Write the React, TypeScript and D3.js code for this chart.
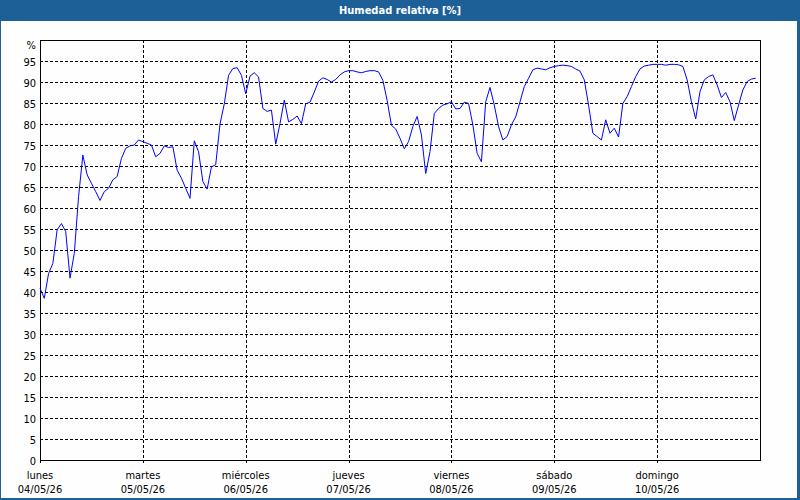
import React from 'react';
import * as d3 from 'd3';

const chartTitle = 'Humedad relativa [%]';
const dayNames = ['lunes', 'martes', 'miércoles', 'jueves', 'viernes', 'sábado', 'domingo'];
const dayDates = ['04/05/26', '05/05/26', '06/05/26', '07/05/26', '08/05/26', '09/05/26', '10/05/26'];
const yTickValues = [0, 5, 10, 15, 20, 25, 30, 35, 40, 45, 50, 55, 60, 65, 70, 75, 80, 85, 90, 95];
const yUnitLabel = '%';

// hourly relative humidity readings, starting Monday 04/05/26 00:00
const humidity = [
  40.9, 38.5, 44.4, 46.8, 54.8, 56.3, 54.4, 43.3, 49.2, 62.7, 72.6, 67.9,
  65.9, 63.9, 61.8, 63.9, 64.7, 66.7, 67.5, 71.8, 74.2, 74.8, 75.0, 76.2,
  75.8, 75.4, 75.0, 72.2, 73.0, 74.8, 74.4, 74.6, 69.0, 67.1, 64.7, 62.3,
  76.0, 73.4, 66.3, 64.5, 69.8, 70.3, 80.0, 84.8, 91.6, 93.2, 93.4, 91.6,
  87.2, 91.4, 92.2, 91.2, 83.7, 83.0, 83.3, 75.2, 80.1, 85.7, 80.5, 81.1,
  81.9, 80.1, 84.8, 85.2, 87.6, 90.2, 91.0, 90.6, 90.0, 90.6, 91.7, 92.4,
  92.7, 92.7, 92.4, 92.2, 92.5, 92.7, 92.7, 92.4, 90.4, 85.6, 79.7, 78.8,
  76.6, 74.1, 75.8, 79.4, 81.8, 77.4, 68.2, 73.4, 82.5, 83.7, 84.5, 84.8,
  85.3, 83.6, 83.7, 85.2, 84.9, 79.8, 73.0, 71.0, 85.3, 88.7, 84.5, 79.4,
  76.2, 77.0, 79.8, 81.7, 85.3, 88.9, 90.9, 92.9, 93.3, 93.1, 92.9, 93.4,
  93.7, 93.9, 94.0, 93.9, 93.7, 93.1, 92.6, 90.5, 84.5, 77.8, 77.0, 76.2,
  81.0, 77.8, 79.0, 76.9, 84.9, 86.5, 88.9, 91.3, 93.1, 93.8, 94.0, 94.2,
  94.2, 94.2, 94.0, 94.2, 94.2, 94.1, 93.7, 90.5, 85.3, 81.2, 87.7, 90.5,
  91.3, 91.7, 89.3, 86.3, 87.5, 85.3, 80.8, 84.5, 88.1, 90.1, 90.7, 90.9,
];

const W = 800;
const H = 500;
const PLOT = { left: 40, top: 40, right: 760, bottom: 460 };
const FONT = "'DejaVu Sans Condensed', 'DejaVu Sans', sans-serif";
const BLUE = '#1d5f97';

export default function App() {
  const hoursPerDay = 24;
  const x = d3.scaleLinear().domain([0, dayNames.length * hoursPerDay]).range([PLOT.left, PLOT.right]);
  const y = d3.scaleLinear().domain([0, 100]).range([PLOT.bottom, PLOT.top]);
  const line = d3
    .line<number>()
    .x((_, i) => x(i))
    .y((d) => y(d));

  const crisp = (v: number) => Math.round(v) + 0.5;

  return (
    <svg
      width={W}
      height={H}
      style={{ position: 'absolute', left: 0, top: 0, display: 'block' }}
      fontFamily={FONT}
    >
      <rect x={0} y={0} width={W} height={H} fill={BLUE} />
      <rect x={1} y={21} width={W - 4} height={H - 23} fill="#fdfefd" />
      <text
        x={W / 2}
        y={14}
        textAnchor="middle"
        fill="#ffffff"
        fontWeight="bold"
        fontSize={11}
        style={{ fontStretch: 'condensed' }}
      >
        {chartTitle}
      </text>

      {/* horizontal grid */}
      {yTickValues
        .filter((v) => v > 0)
        .map((v) => (
          <line
            key={'hg' + v}
            x1={PLOT.left}
            x2={PLOT.right}
            y1={crisp(y(v))}
            y2={crisp(y(v))}
            stroke="#000"
            strokeDasharray="3,2"
            shapeRendering="crispEdges"
          />
        ))}
      {/* vertical grid */}
      {dayNames.map((_, i) =>
        i === 0 ? null : (
          <line
            key={'vg' + i}
            x1={crisp(x(i * hoursPerDay))}
            x2={crisp(x(i * hoursPerDay))}
            y1={PLOT.top}
            y2={PLOT.bottom + 3}
            stroke="#000"
            strokeDasharray="3,2"
            shapeRendering="crispEdges"
          />
        )
      )}

      {/* plot frame */}
      <rect
        x={PLOT.left + 0.5}
        y={PLOT.top + 0.5}
        width={PLOT.right - PLOT.left}
        height={PLOT.bottom - PLOT.top}
        fill="none"
        stroke="#000"
        shapeRendering="crispEdges"
      />
      <line x1={PLOT.left + 0.5} x2={PLOT.left + 0.5} y1={PLOT.bottom} y2={PLOT.bottom + 3} stroke="#000" shapeRendering="crispEdges" />

      {/* y tick labels */}
      {yTickValues.map((v) => (
        <text
          key={'yl' + v}
          x={36}
          y={y(v) + 4.5}
          textAnchor="end"
          fontSize={11}
          fill="#000"
          style={{ fontStretch: 'condensed' }}
        >
          {v}
        </text>
      ))}
      <text x={36} y={y(100) + 9} textAnchor="end" fontSize={11} fill="#000" style={{ fontStretch: 'condensed' }}>
        {yUnitLabel}
      </text>

      {/* x labels */}
      {dayNames.map((name, i) => (
        <g key={'xl' + i} fontSize={11} fill="#000" style={{ fontStretch: 'condensed' }}>
          <text x={x(i * hoursPerDay)} y={479} textAnchor="middle">
            {name}
          </text>
          <text x={x(i * hoursPerDay)} y={493} textAnchor="middle">
            {dayDates[i]}
          </text>
        </g>
      ))}

      {/* data line */}
      <path d={line(humidity) || ''} fill="none" stroke="#0000ff" strokeWidth={1} />
    </svg>
  );
}
